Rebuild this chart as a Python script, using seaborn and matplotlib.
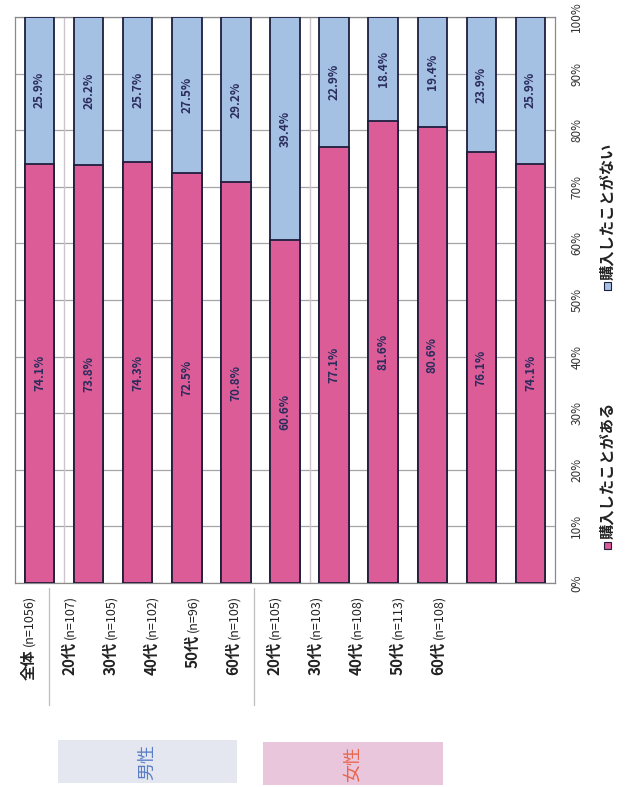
import matplotlib
matplotlib.use("Agg")
import matplotlib.pyplot as plt
import seaborn as sns
import pandas as pd
from matplotlib.patches import Rectangle

# ---- data ----
ages = ["全体", "20代", "30代", "40代", "50代", "60代", "20代", "30代", "40代", "50代", "60代"]
ns = ["(n=1056)", "(n=107)", "(n=105)", "(n=102)", "(n=96)", "(n=109)",
      "(n=105)", "(n=103)", "(n=108)", "(n=113)", "(n=108)"]
bought = [74.1, 73.8, 74.3, 72.5, 70.8, 60.6, 77.1, 81.6, 80.6, 76.1, 74.1]
not_bought = [25.9, 26.2, 25.7, 27.5, 29.2, 39.4, 22.9, 18.4, 19.4, 23.9, 25.9]
groups = ["男性", "女性"]
legend_labels = ["購入したことがある", "購入したことがない"]
yticks = list(range(0, 101, 10))

PINK = "#DB5C97"
BLUE = "#A4C0E2"
EDGE = "#1F1E3E"
LABEL_C = "#2A2C5C"

sns.set_style("white")
plt.rcParams["font.family"] = ["Noto Sans CJK JP", "DejaVu Sans"]

df = pd.DataFrame({
    "key": list(range(len(ages))),
    "bought": bought,
    "not_bought": not_bought,
})
df["total"] = df["bought"] + df["not_bought"]

W, H = 628, 787
fig = plt.figure(figsize=(W / 100, H / 100), dpi=100)

# main axes
ax = fig.add_axes([15 / W, 1 - 583 / H, 540 / W, 566 / H])
sns.barplot(data=df, x="key", y="total", color=BLUE, width=0.6,
            edgecolor=EDGE, linewidth=1.3, saturation=1, ax=ax, zorder=3)
sns.barplot(data=df, x="key", y="bought", color=PINK, width=0.6,
            edgecolor=EDGE, linewidth=1.3, saturation=1, ax=ax, zorder=4)

ax.set_xlim(-0.5, len(ages) - 0.5)
ax.set_ylim(0, 100)
ax.set_xlabel("")
ax.set_ylabel("")
ax.set_xticks([])
ax.yaxis.tick_right()
ax.set_yticks(yticks)
ax.set_yticklabels([f"{v}%" for v in yticks], rotation=90, va="center",
                   fontsize=8.5, color="#333333")
ax.tick_params(axis="y", length=0, pad=11)
for v in yticks:
    ax.axhline(v, color="#A5A5A5", lw=0.9, zorder=1)
for xs in [0.5, 5.5]:
    ax.axvline(xs, color="#CFC4CC", lw=1.0, zorder=1)
for sp in ax.spines.values():
    sp.set_color("#8A8A8A")
    sp.set_linewidth(0.9)

# segment labels
blue_cont, pink_cont = ax.containers[0], ax.containers[1]
for b, v in zip(pink_cont, bought):
    ax.text(b.get_x() + b.get_width() / 2, v / 2, f"{v}%", rotation=90,
            ha="center", va="center", fontsize=8.5, color=LABEL_C,
            fontweight="bold", zorder=6)
for b, v, nb in zip(blue_cont, bought, not_bought):
    ax.text(b.get_x() + b.get_width() / 2, v + nb / 2, f"{nb}%", rotation=90,
            ha="center", va="center", fontsize=8.5, color=LABEL_C,
            fontweight="bold", zorder=6)

# category label axes
lax = fig.add_axes([8 / W, 0, 451 / W, 199 / H])
lax.set_xlim(-0.5, len(ages) - 0.5)
lax.set_ylim(199, 0)
lax.axis("off")
for xs in [0.5, 5.5]:
    lax.plot([xs, xs], [0, 117], color="#BDBDBD", lw=0.9)

fig.canvas.draw()
renderer = fig.canvas.get_renderer()
for i, (a, n) in enumerate(zip(ages, ns)):
    t1 = lax.text(i, 7, n, rotation=90, ha="center", va="top",
                  fontsize=9, color="#222222")
    bb = t1.get_window_extent(renderer)
    y_bottom_disp = bb.y0 - 3
    y_data = lax.transData.inverted().transform((0, y_bottom_disp))[1]
    lax.text(i, y_data, a, rotation=90, ha="center", va="top",
             fontsize=11, fontweight="bold", color="#222222")

# group boxes
box_specs = [(0.72, 5.09, 152, 195, "#E4E7EF", "#5A7EC6"),
             (5.72, 10.11, 154, 197, "#E9C6DC", "#E8664C")]
for g, (x0, x1, y0, y1, fc, tc) in zip(groups, box_specs):
    lax.add_patch(Rectangle((x0, y0), x1 - x0, y1 - y0, facecolor=fc,
                            edgecolor="none"))
    lax.text((x0 + x1) / 2, (y0 + y1) / 2, g, rotation=90, ha="center",
             va="center", fontsize=13, color=tc)

# legend (rotated)
leg_specs = [(PINK, 545), (BLUE, 286)]
for lab, (c, ypx) in zip(legend_labels, leg_specs):
    s = 7
    fig.patches.append(Rectangle(((607 - s / 2) / W, 1 - (ypx + s / 2) / H),
                                 s / W, s / H, facecolor=c, edgecolor=EDGE,
                                 lw=0.8, transform=fig.transFigure, figure=fig))
    fig.text(607 / W, 1 - (ypx - 6) / H, lab, rotation=90, ha="center",
             va="bottom", fontsize=11, fontweight="bold", color="#222222")

fig.savefig("out.png", dpi=100)
